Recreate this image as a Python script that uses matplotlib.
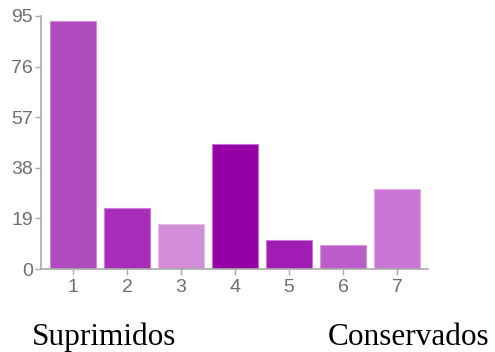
import matplotlib
matplotlib.use("Agg")
import matplotlib.pyplot as plt

categories = ["1", "2", "3", "4", "5", "6", "7"]
values = [93, 23, 17, 47, 11, 9, 30]
colors = ["#b04cbf", "#a82cb9", "#d18dd8", "#9400a6", "#a11bb5", "#bd5ccb", "#c878d4"]
edge_colors = ["#cf8ad8", "#c97fd4", "#e6bde9", "#c56fd0", "#c77ad2", "#d59ade", "#dfaae5"]
yticks = [0, 19, 38, 57, 76, 95]
bottom_labels = ["Suprimidos", "Conservados"]

fig = plt.figure(figsize=(4.95, 3.52), dpi=100)
ax = fig.add_axes([41/495, 83/352, 387/495, 253/352])

x = list(range(1, len(categories) + 1))
ax.bar(x, values, width=46/54, color=colors, edgecolor=edge_colors, linewidth=0.8)

ax.set_xlim(0.407, 7.574)
ax.set_ylim(0, 95)
ax.set_xticks(x)
ax.set_xticklabels(categories)
ax.set_yticks(yticks)
ax.set_yticklabels([str(v) for v in yticks])

for s in ["top", "right"]:
    ax.spines[s].set_visible(False)
for s in ["left", "bottom"]:
    ax.spines[s].set_color("#aaaaaa")
    ax.spines[s].set_linewidth(1.2)

ax.tick_params(axis="both", colors="#aaaaaa", length=4.3, width=1.0,
               labelcolor="#6f6f6f", labelsize=14)
ax.tick_params(axis="x", pad=3.0)
ax.tick_params(axis="y", pad=1.5)
for lab in ax.get_xticklabels() + ax.get_yticklabels():
    lab.set_family("Liberation Sans")

fig.text(32/495, 1 - 345/352, bottom_labels[0], family="Liberation Serif",
         fontsize=22.5, color="black", ha="left", va="baseline")
fig.text(328/495, 1 - 345/352, bottom_labels[1], family="Liberation Serif",
         fontsize=22.5, color="black", ha="left", va="baseline")

fig.savefig("out.png", dpi=100)
